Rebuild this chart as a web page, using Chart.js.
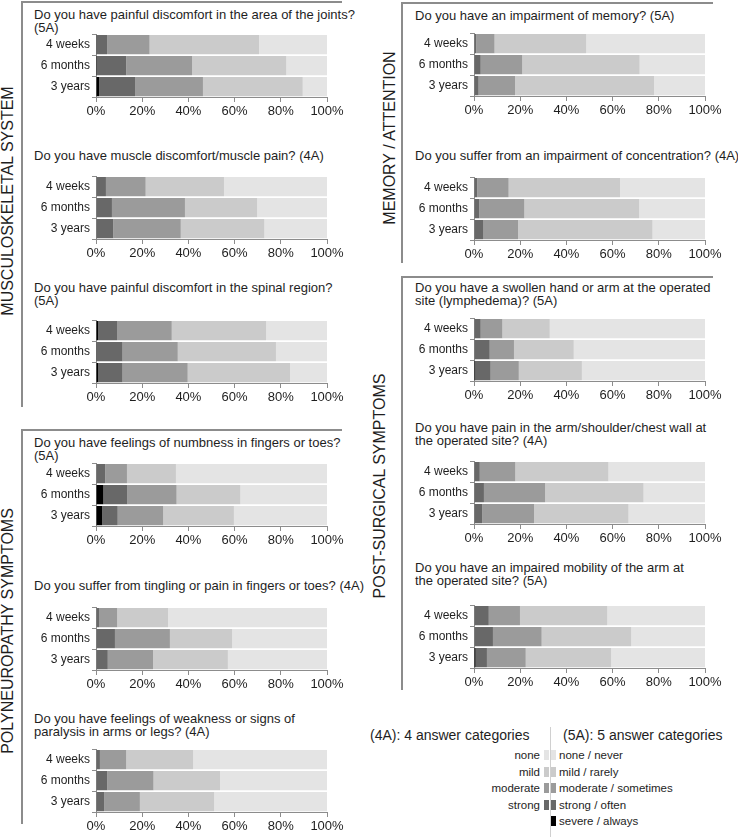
<!DOCTYPE html>
<html>
<head>
<meta charset="utf-8">
<script src="https://cdn.jsdelivr.net/npm/chart.js@4.4.1/dist/chart.umd.min.js"></script>
<style>
body { margin: 0; background: #fff; font-family: "Liberation Sans", Arial, sans-serif; color: #1e1e1e; }
#page { position: relative; width: 738px; height: 837px; overflow: hidden; }
.title { position: absolute; font-size: 13px; line-height: 13px; white-space: nowrap; }
.pane { position: absolute; }
.rule { position: absolute; background: #8c8c8c; }
.section { position: absolute; font-size: 16px; line-height: 16px; white-space: nowrap; transform: translate(-50%, -50%) rotate(-90deg); }
.leghead { position: absolute; font-size: 14px; line-height: 16px; white-space: nowrap; }
.legtxt { position: absolute; font-size: 11.5px; line-height: 12px; white-space: nowrap; }
.sw { position: absolute; width: 5px; height: 10px; }
</style>
</head>
<body>
<div id="page">
  <!-- section frames -->
  <div class="rule" style="left:22px;top:1px;width:320px;height:2px"></div>
  <div class="rule" style="left:21px;top:1px;width:2px;height:406px"></div>
  <div class="rule" style="left:22px;top:429px;width:320px;height:2px"></div>
  <div class="rule" style="left:21px;top:429px;width:2px;height:395px"></div>
  <div class="rule" style="left:402px;top:2px;width:311px;height:2px"></div>
  <div class="rule" style="left:401px;top:2px;width:2px;height:261px"></div>
  <div class="rule" style="left:402px;top:276px;width:311px;height:2px"></div>
  <div class="rule" style="left:401px;top:276px;width:2px;height:414px"></div>

  <div class="section" style="left:8px;top:201px">MUSCULOSKELETAL SYSTEM</div>
  <div class="section" style="left:8px;top:631px">POLYNEUROPATHY SYMPTOMS</div>
  <div class="section" style="left:390px;top:138px">MEMORY / ATTENTION</div>
  <div class="section" style="left:380px;top:486px">POST-SURGICAL SYMPTOMS</div>

  <div class="leghead" style="left:370px;top:727px">(4A): 4 answer categories</div>
  <div class="leghead" style="left:563px;top:727px">(5A): 5 answer categories</div>
  <div class="rule" style="left:550px;top:727px;width:1px;height:110px;background:#d0d0d0"></div>
</div>

<script>
const periods = ['4 weeks', '6 months', '3 years'];
const tickStep = 20;
const shades = ['#000000', '#686868', '#9b9b9b', '#cbcbcb', '#e4e4e4'];
const labels4A = ['none', 'mild', 'moderate', 'strong'];
const labels5A = ['none / never', 'mild / rarely', 'moderate / sometimes', 'strong / often', 'severe / always'];

// 5A rows: [severe, strong, moderate, mild, none]   4A rows: [strong, moderate, mild, none]
const joints = [[0.3, 4.5, 18.4, 47.4, 29.4], [0.4, 12.7, 28.5, 40.8, 17.6], [1.4, 15.5, 29.4, 43.2, 10.5]];
const muscle = [[4.3, 17.2, 33.9, 44.6], [6.9, 31.6, 31.3, 30.2], [7.5, 29.2, 36.2, 27.1]];
const spinal = [[0.9, 8.2, 23.7, 40.8, 26.4], [0.3, 11.2, 23.9, 42.5, 22.1], [1.0, 10.5, 28.2, 44.3, 16.0]];
const numbness = [[0, 4.0, 9.4, 21.2, 65.4], [3.2, 10.4, 21.3, 27.6, 37.5], [2.7, 6.7, 19.7, 30.6, 40.3]];
const tingling = [[1.3, 7.9, 22.0, 68.8], [8.2, 23.8, 27.0, 41.0], [5.1, 19.6, 32.4, 42.9]];
const weakness = [[1.7, 11.4, 28.9, 58.0], [4.9, 20.0, 28.8, 46.3], [3.5, 15.5, 32.2, 48.8]];
const memory = [[0, 1.0, 7.9, 39.7, 51.4], [0, 2.9, 18.0, 50.8, 28.3], [0, 2.0, 15.8, 60.2, 22.0]];
const concentration = [[1.4, 13.6, 48.2, 36.8], [2.3, 19.5, 49.7, 28.5], [3.9, 15.2, 58.2, 22.7]];
const lymphedema = [[0, 2.9, 9.4, 20.5, 67.2], [0, 6.8, 10.5, 25.9, 56.8], [0.6, 6.6, 12.2, 27.3, 53.3]];
const armPain = [[2.5, 15.4, 40.3, 41.8], [4.3, 26.5, 42.6, 26.6], [3.5, 22.5, 40.9, 33.1]];
const mobility = [[0, 6.4, 13.5, 37.8, 42.3], [0, 8.2, 21.1, 38.8, 31.9], [0.7, 4.9, 16.8, 37.0, 40.6]];

const panels = [
  { side: 'L', top: 29, titleTop: 8, rows: joints, title: ['Do you have painful discomfort in the area of the joints?', '(5A)'] },
  { side: 'L', top: 171, titleTop: 148.5, rows: muscle, title: ['Do you have muscle discomfort/muscle pain? (4A)'] },
  { side: 'L', top: 315, titleTop: 280.5, rows: spinal, title: ['Do you have painful discomfort in the spinal region?', '(5A)'] },
  { side: 'L', top: 458, titleTop: 435.5, rows: numbness, title: ['Do you have feelings of numbness in fingers or toes?', '(5A)'] },
  { side: 'L', top: 602, titleTop: 578.5, rows: tingling, title: ['Do you suffer from tingling or pain in fingers or toes? (4A)'] },
  { side: 'L', top: 744, titleTop: 711.5, rows: weakness, title: ['Do you have feelings of weakness or signs of', 'paralysis in arms or legs? (4A)'] },
  { side: 'R', top: 28, titleTop: 8.5, rows: memory, title: ['Do you have an impairment of memory? (5A)'] },
  { side: 'R', top: 172, titleTop: 148.5, rows: concentration, title: ['Do you suffer from an impairment of concentration? (4A)'] },
  { side: 'R', top: 313, titleTop: 280.5, rows: lymphedema, title: ['Do you have a swollen hand or arm at the operated', 'site (lymphedema)? (5A)'] },
  { side: 'R', top: 456, titleTop: 420.5, rows: armPain, title: ['Do you have pain in the arm/shoulder/chest wall at', 'the operated site? (4A)'] },
  { side: 'R', top: 600, titleTop: 560.5, rows: mobility, title: ['Do you have an impaired mobility of the arm at', 'the operated site? (5A)'] }
];

const page = document.getElementById('page');
const fontFam = '"Liberation Sans", Arial, sans-serif';
const axisGray = '#8c8c8c';

function makePanel(p) {
  const left = p.side === 'L' ? 0 : 380;
  const axisW = p.side === 'L' ? 96 : 94;
  const titleX = p.side === 'L' ? 34 : 415;

  const t = document.createElement('div');
  t.className = 'title';
  t.style.left = titleX + 'px';
  t.style.top = p.titleTop + 'px';
  t.innerHTML = p.title.join('<br>');
  page.appendChild(t);

  const wrap = document.createElement('div');
  wrap.className = 'pane';
  wrap.style.left = left + 'px';
  wrap.style.top = (p.top - 4) + 'px';
  const canvas = document.createElement('canvas');
  canvas.width = 350;
  canvas.height = 98;
  wrap.appendChild(canvas);
  page.appendChild(wrap);

  const n = p.rows[0].length;
  const colors = shades.slice(shades.length - n);
  const datasets = colors.map((c, k) => ({
    data: p.rows.map(r => r[k]),
    backgroundColor: c,
    borderWidth: 0,
    barPercentage: 0.92,
    categoryPercentage: 1
  }));

  new Chart(canvas, {
    type: 'bar',
    data: { labels: periods, datasets: datasets },
    options: {
      indexAxis: 'y',
      responsive: false,
      animation: false,
      layout: { padding: { top: 4, right: 350 - axisW - 231, left: 0, bottom: 0 } },
      plugins: { legend: { display: false }, tooltip: { enabled: false } },
      scales: {
        x: {
          stacked: true, min: 0, max: 100,
          ticks: { stepSize: tickStep, callback: v => v + '%', font: { size: 13, family: fontFam }, color: '#1e1e1e', padding: 2, maxRotation: 0, autoSkip: false },
          grid: { drawOnChartArea: false, tickLength: 5, color: axisGray },
          border: { display: true, color: axisGray },
          afterFit: s => { s.height = 26; }
        },
        y: {
          stacked: true,
          ticks: { font: { size: 12, family: fontFam }, color: '#1e1e1e', padding: 2 },
          grid: { drawOnChartArea: false, tickLength: 4, color: axisGray },
          border: { display: true, color: axisGray },
          afterFit: s => { s.width = axisW; }
        }
      }
    }
  });
}

panels.forEach(makePanel);

// legend for the answer categories
const rowY = [755, 772, 788, 805, 821];
labels5A.forEach((txt, i) => {
  const y = rowY[i];
  const right = document.createElement('div');
  right.className = 'legtxt';
  right.style.left = '559px';
  right.style.top = (y - 6) + 'px';
  right.textContent = txt;
  page.appendChild(right);
  const sw = document.createElement('div');
  sw.className = 'sw';
  sw.style.left = '551px';
  sw.style.top = (y - 5) + 'px';
  sw.style.background = shades[shades.length - 1 - i];
  page.appendChild(sw);
});
labels4A.forEach((txt, i) => {
  const y = rowY[i];
  const l = document.createElement('div');
  l.className = 'legtxt';
  l.style.left = '440px';
  l.style.width = '100px';
  l.style.textAlign = 'right';
  l.style.top = (y - 6) + 'px';
  l.textContent = txt;
  page.appendChild(l);
  const sw = document.createElement('div');
  sw.className = 'sw';
  sw.style.left = '544px';
  sw.style.top = (y - 5) + 'px';
  sw.style.background = shades[shades.length - 1 - i];
  page.appendChild(sw);
});
</script>
</body>
</html>
